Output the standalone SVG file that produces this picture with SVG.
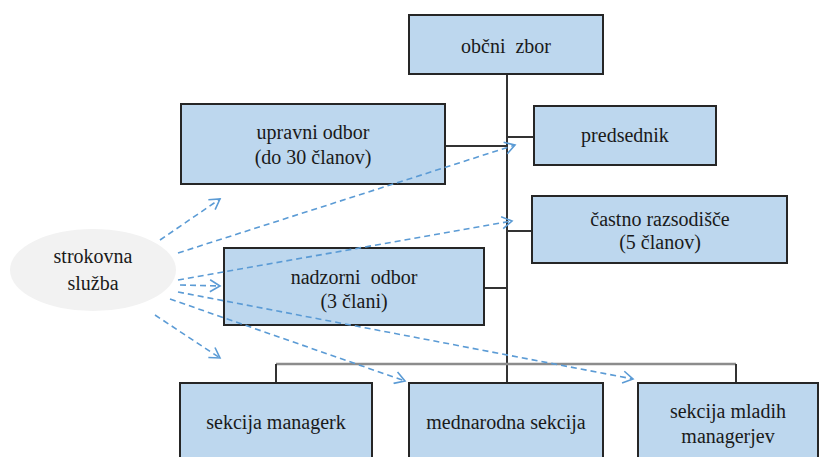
<svg xmlns="http://www.w3.org/2000/svg" width="820" height="457" viewBox="0 0 820 457">
<defs>
<style>
.box{fill:#bdd7ee;stroke:#262626;stroke-width:2}
.t{font-family:'Times New Roman','Liberation Serif','DejaVu Serif','Noto Serif',serif;font-size:20px;fill:#1a1a1a;text-anchor:middle;white-space:pre}
.ln{stroke:#333;stroke-width:2;fill:none}
.bus{stroke:#8c8c8c;stroke-width:2.5;fill:none}
.da{stroke:#5b9bd5;stroke-width:1.6;stroke-dasharray:6 4;fill:none;marker-end:url(#ah)}
</style>
<marker id="ah" markerUnits="userSpaceOnUse" markerWidth="14" markerHeight="14" refX="12" refY="7" orient="auto">
<path d="M2,1 L12,7 L2,13" fill="none" stroke="#5b9bd5" stroke-width="1.6"/>
</marker>
</defs>
<g id="connectors">
<line class="ln" x1="507" y1="74" x2="507" y2="383"/>
<line class="ln" x1="445" y1="146" x2="507" y2="146"/>
<line class="ln" x1="507" y1="137" x2="534" y2="137"/>
<line class="ln" x1="507" y1="231" x2="532" y2="231"/>
<line class="ln" x1="484" y1="288" x2="507" y2="288"/>
<line class="bus" x1="276" y1="364" x2="736" y2="364"/>
<line class="ln" x1="276" y1="364" x2="276" y2="383"/>
<line class="ln" x1="736" y1="364" x2="736" y2="383"/>
</g>
<g id="obcni-zbor"><rect class="box" x="409" y="15" width="194" height="59"/><text class="t" x="506" y="53">občni  zbor</text></g>
<g id="predsednik"><rect class="box" x="534" y="106" width="182" height="59"/><text class="t" x="625" y="142">predsednik</text></g>
<g id="upravni-odbor"><rect class="box" x="181" y="104" width="264" height="80"/><text class="t" x="313" y="139">upravni odbor</text><text class="t" x="313" y="164">(do 30 članov)</text></g>
<g id="castno-razsodisce"><rect class="box" x="532" y="196" width="255" height="67"/><text class="t" x="660" y="226">častno razsodišče</text><text class="t" x="660" y="249">(5 članov)</text></g>
<g id="nadzorni-odbor"><rect class="box" x="224" y="248" width="260" height="77"/><text class="t" x="354" y="284">nadzorni  odbor</text><text class="t" x="354" y="308">(3 člani)</text></g>
<g id="sekcija-managerk"><rect class="box" x="180" y="383" width="192" height="90"/><text class="t" x="276" y="429">sekcija managerk</text></g>
<g id="mednarodna-sekcija"><rect class="box" x="409" y="383" width="194" height="90"/><text class="t" x="506" y="429">mednarodna sekcija</text></g>
<g id="sekcija-mladih"><rect class="box" x="638" y="383" width="180" height="90"/><text class="t" x="728" y="418">sekcija mladih</text><text class="t" x="728" y="443">managerjev</text></g>
<g id="strokovna-sluzba"><ellipse cx="93" cy="270" rx="83" ry="41" fill="#f2f2f2"/><text class="t" x="93" y="263">strokovna</text><text class="t" x="93" y="290">služba</text></g>
<g id="dashed-arrows">
<line class="da" x1="160" y1="240" x2="220" y2="199"/>
<line class="da" x1="178" y1="253" x2="515" y2="145"/>
<line class="da" x1="178" y1="280" x2="512" y2="221"/>
<line class="da" x1="180" y1="285" x2="220" y2="286"/>
<line class="da" x1="178" y1="292" x2="633" y2="379"/>
<line class="da" x1="170" y1="299" x2="405" y2="381"/>
<line class="da" x1="155" y1="315" x2="220" y2="358"/>
</g>
</svg>
